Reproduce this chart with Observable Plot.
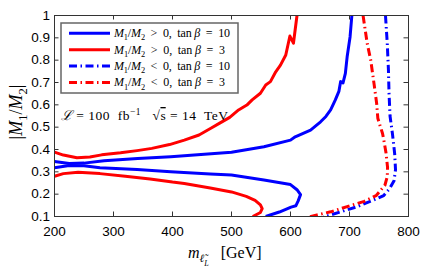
<!DOCTYPE html>
<html><head><meta charset="utf-8">
<script src="https://cdn.jsdelivr.net/npm/d3@7"></script>
<script src="https://cdn.jsdelivr.net/npm/@observablehq/plot@0.6"></script>
<style>body{margin:0;background:#fff}</style>
</head><body><div id="chart"></div>
<script>
// ---------- data ----------
const xTicks = [200, 300, 400, 500, 600, 700, 800];
const yTicks = [0.1, 0.2, 0.3, 0.4, 0.5, 0.6, 0.7, 0.8, 0.9, 1];

// M1/M2 > 0, tan beta = 10 (blue solid)
const blueUpper = [[200,0.346],[225,0.337],[250,0.339],[284,0.35],[341,0.36],[397,0.368],[454,0.379],[500,0.388],[555,0.412],[600,0.442],[608,0.457],[634,0.487],[651,0.524],[660,0.548],[668,0.577],[676,0.622],[682,0.66],[685,0.704],[689,0.698],[693,0.741],[696,0.815],[701,0.905],[704,1.0]];
const blueLower = [[200,0.318],[225,0.328],[250,0.327],[277,0.318],[340,0.31],[397,0.30],[464,0.29],[500,0.286],[555,0.263],[600,0.243],[611,0.22],[617,0.198],[613,0.17],[609,0.148],[601,0.142],[581,0.12],[558,0.1]];
// M1/M2 > 0, tan beta = 3 (red solid)
const redUpper = [[200,0.388],[215,0.375],[238,0.363],[260,0.366],[280,0.376],[312,0.385],[340,0.395],[365,0.405],[395,0.422],[420,0.442],[445,0.465],[465,0.495],[480,0.518],[497,0.544],[512,0.577],[526,0.599],[535,0.622],[549,0.652],[558,0.689],[566,0.704],[575,0.748],[583,0.778],[592,0.823],[599,0.908],[605,0.876],[611,1.0]];
const redLower = [[200,0.28],[215,0.292],[240,0.298],[277,0.292],[320,0.28],[362,0.268],[400,0.254],[420,0.248],[464,0.228],[500,0.21],[525,0.19],[540,0.172],[549,0.152],[552,0.135],[549,0.118],[536,0.1]];
// M1/M2 < 0, tan beta = 10 (blue dash-dot)
const blueDash = [[761,1.0],[764,0.875],[766,0.756],[767,0.652],[768.7,0.55],[772.8,0.47],[776.5,0.383],[778,0.31],[775.5,0.26],[768,0.225],[758,0.194],[741,0.174],[713,0.144],[685,0.121],[662,0.102],[656,0.1]];
// M1/M2 < 0, tan beta = 3 (red dash-dot)
const redDash = [[723,1.0],[730,0.875],[736,0.80],[741.5,0.696],[746,0.607],[748,0.54],[752,0.505],[756,0.472],[759,0.43],[762,0.383],[764.5,0.32],[764,0.278],[760,0.24],[745,0.193],[725,0.168],[696,0.144],[668,0.121],[645,0.107],[631,0.098]];

const legendLabels = [
  {sign: ">", tb: "10"},
  {sign: ">", tb: "3"},
  {sign: "<", tb: "10"},
  {sign: "<", tb: "3"}
];

// ---------- layout / style ----------
const W = 425, H = 268, mL = 54, mR = 17, mT = 15, mB = 52;
const innerW = W - mL - mR, innerH = H - mT - mB, tk = 4.5;
const BLUE = "#0000ff", RED = "#ff0000", DASH = "8,3.5,1.5,3.5";
const styles = [
  {color: BLUE, dash: null},
  {color: RED, dash: null},
  {color: BLUE, dash: DASH},
  {color: RED, dash: DASH}
];
const curves = [
  {pts: blueUpper, s: 0}, {pts: blueLower, s: 0},
  {pts: redUpper, s: 1}, {pts: redLower, s: 1},
  {pts: blueDash, s: 2}, {pts: redDash, s: 3}
];

const axisColor = "#333";
const svg = Plot.plot({
  width: W, height: H,
  marginLeft: mL, marginRight: mR, marginTop: mT, marginBottom: mB,
  style: {fontFamily: "'Liberation Sans', Arial, sans-serif", fontSize: "13.5px", color: "#000", background: "#fff"},
  x: {domain: [200, 800]},
  y: {domain: [0.1, 1]},
  marks: [
    ...curves.map(c => Plot.line(c.pts, {
      x: d => d[0], y: d => d[1],
      stroke: styles[c.s].color, strokeWidth: 3,
      strokeDasharray: styles[c.s].dash, strokeLinecap: "butt", clip: true
    })),
    Plot.tickX(xTicks, {x: d => d, insetTop: innerH - tk, stroke: axisColor}),
    Plot.tickX(xTicks, {x: d => d, insetBottom: innerH - tk, stroke: axisColor}),
    Plot.tickY(yTicks, {y: d => d, insetRight: innerW - tk, stroke: axisColor}),
    Plot.tickY(yTicks, {y: d => d, insetLeft: innerW - tk, stroke: axisColor}),
    Plot.axisX(xTicks, {tickSize: 0, tickPadding: 10, label: null, fontSize: 13.5, tickFormat: d => String(d)}),
    Plot.axisY(yTicks, {tickSize: 0, tickPadding: 4.5, label: null, fontSize: 13.5, tickFormat: d => d === 1 ? "1" : d.toFixed(1)}),
    Plot.frame({stroke: axisColor})
  ]
});
document.getElementById("chart").appendChild(svg);

// ---------- math-like text helper ----------
const SERIF = "'Liberation Serif', 'DejaVu Serif', serif";
function mathText(parent, x, y, segs, size, anchor) {
  const t = parent.append("text").attr("x", x).attr("y", y)
    .attr("text-anchor", anchor || "start")
    .attr("font-family", SERIF).attr("font-size", size)
    .attr("fill", "#000");
  let off = 0;
  for (const s of segs) {
    const target = s.sub ? size * (s.shift || 0.28) : s.sup ? -size * 0.38 : 0;
    const ts = t.append("tspan").text(s.t);
    if (target !== off) { ts.attr("dy", target - off); off = target; }
    if (s.it) ts.attr("font-style", "italic");
    if (s.sub || s.sup) ts.attr("font-size", size * (s.small || 0.7));
    if (s.over) ts.attr("text-decoration", "overline");
  }
  return t;
}

const g = d3.select(svg).append("g").attr("text-anchor", "start");

// legend
const lx = 61, ly = 23, lw = 177, lh = 70;
g.append("rect").attr("x", lx).attr("y", ly).attr("width", lw).attr("height", lh)
  .attr("fill", "#fff").attr("stroke", "#666").attr("stroke-width", 1.5);
legendLabels.forEach((L, i) => {
  const y = 33.3 + i * 16.4;
  g.append("line").attr("x1", 69).attr("x2", 110).attr("y1", y).attr("y2", y)
    .attr("stroke", styles[i].color).attr("stroke-width", 3)
    .attr("stroke-dasharray", styles[i].dash);
  mathText(g, 114, y + 3.8, [
    {t: "M", it: true}, {t: "1", sub: true}, {t: "/"}, {t: "M", it: true}, {t: "2", sub: true},
    {t: "  " + L.sign + "  0,  tan "}, {t: "β", it: true}, {t: "  =  " + L.tb}
  ], 12).attr("textLength", L.tb === "10" ? 116 : 111).attr("lengthAdjust", "spacing");
});

// annotation
mathText(g, 61, 120, [
  {t: "ℒ", it: true}, {t: " = 100  fb"}, {t: "−1", sup: true}, {t: "   √"}, {t: "s", over: true},
  {t: " = 14  TeV"}
], 13.5).attr("textLength", 167).attr("lengthAdjust", "spacing");

// x label
mathText(g, 188, 258, [
  {t: "m", it: true}, {t: "ℓ̃", sub: true, it: true},
  {t: "L", it: true, sub: true, shift: 0.5, small: 0.5},
  {t: "   [GeV]"}
], 16);

// y label (rotated)
const yg = g.append("g").attr("transform", "translate(22,112) rotate(-90)");
mathText(yg, 0, 0, [
  {t: "|"}, {t: "M", it: true}, {t: "1", sub: true}, {t: "/"}, {t: "M", it: true}, {t: "2", sub: true}, {t: "|"}
], 18, "middle");
</script>
</body></html>
